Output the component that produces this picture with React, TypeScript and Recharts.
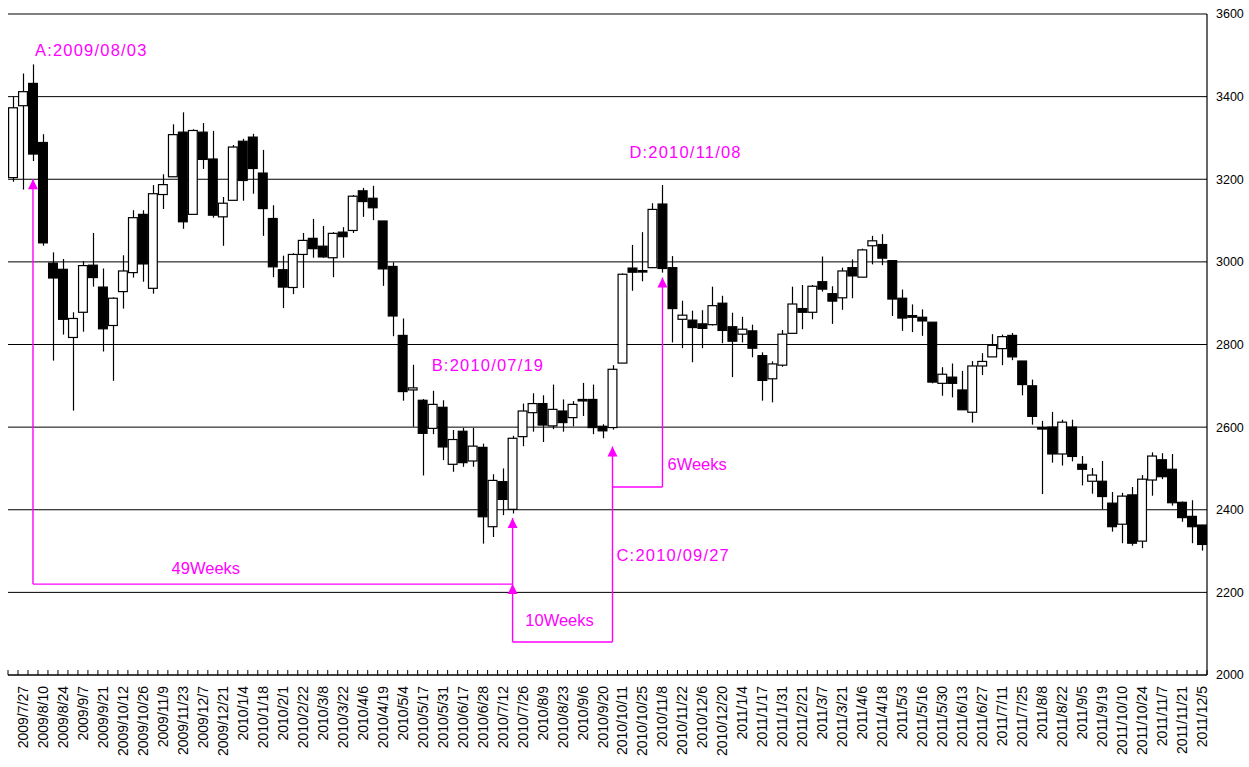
import { ComposedChart, Bar, XAxis, YAxis, CartesianGrid, ReferenceLine, ReferenceDot } from "recharts";

// week labels (every other candle is labelled)
const dateLabels = [
  "2009/7/27", "2009/8/10", "2009/8/24", "2009/9/7", "2009/9/21", "2009/10/12", "2009/10/26", "2009/11/9",
  "2009/11/23", "2009/12/7", "2009/12/21", "2010/1/4", "2010/1/18", "2010/2/1", "2010/2/22", "2010/3/8",
  "2010/3/22", "2010/4/6", "2010/4/19", "2010/5/4", "2010/5/17", "2010/5/31", "2010/6/17", "2010/6/28",
  "2010/7/12", "2010/7/26", "2010/8/9", "2010/8/23", "2010/9/6", "2010/9/20", "2010/10/11", "2010/10/25",
  "2010/11/8", "2010/11/22", "2010/12/6", "2010/12/20", "2011/1/4", "2011/1/17", "2011/1/31", "2011/2/21",
  "2011/3/7", "2011/3/21", "2011/4/6", "2011/4/18", "2011/5/3", "2011/5/16", "2011/5/30", "2011/6/13",
  "2011/6/27", "2011/7/11", "2011/7/25", "2011/8/8", "2011/8/22", "2011/9/5", "2011/9/19", "2011/10/10",
  "2011/10/24", "2011/11/7", "2011/11/21", "2011/12/5",
];

const opens = [
  3204, 3378, 3432, 3289, 2997, 2982, 2817, 2878, 2992, 2939, 2846, 2928, 2974, 3115, 2936, 3163, 3206, 3314, 3115, 3314,
  3249, 3109, 3149, 3292, 3302, 3215, 3105, 2981, 2938, 3018, 3057, 3038, 3010, 3072, 3076, 3172, 3154, 3099, 2989, 2822,
  2690, 2665, 2597, 2648, 2510, 2590, 2518, 2551, 2359, 2468, 2401, 2577, 2635, 2657, 2603, 2639, 2623, 2667, 2667, 2602,
  2599, 2755, 2985, 2979, 2986, 3140, 2986, 2861, 2859, 2850, 2848, 2900, 2843, 2825, 2833, 2773, 2717, 2750, 2827, 2887,
  2878, 2952, 2923, 2913, 2986, 2963, 3039, 3042, 3003, 2912, 2870, 2866, 2854, 2706, 2721, 2690, 2636, 2748, 2770, 2790,
  2822, 2760, 2700, 2599, 2600, 2535, 2600, 2510, 2469, 2469, 2416, 2365, 2436, 2324, 2472, 2521, 2498, 2418, 2384, 2363,
];
const highs = [
  3400, 3456, 3478, 3309, 3023, 3007, 2878, 3002, 3070, 2984, 2914, 3016, 3125, 3125, 3186, 3212, 3333, 3362, 3321, 3336,
  3317, 3157, 3283, 3298, 3310, 3271, 3137, 3015, 3021, 3070, 3104, 3087, 3072, 3084, 3162, 3179, 3184, 3099, 2999, 2863,
  2751, 2668, 2688, 2665, 2593, 2598, 2598, 2560, 2486, 2500, 2579, 2657, 2682, 2677, 2703, 2667, 2663, 2707, 2703, 2607,
  2750, 2972, 3041, 3072, 3142, 3186, 3014, 2906, 2882, 2883, 2940, 2918, 2877, 2867, 2848, 2781, 2759, 2835, 2940, 2944,
  2944, 3013, 2941, 2986, 3006, 3032, 3063, 3067, 3003, 2933, 2897, 2885, 2854, 2745, 2754, 2736, 2760, 2779, 2825, 2824,
  2828, 2760, 2715, 2615, 2637, 2618, 2618, 2530, 2501, 2518, 2443, 2441, 2455, 2484, 2539, 2537, 2535, 2420, 2423, 2363,
];
const lows = [
  3194, 3175, 3244, 3039, 2761, 2824, 2640, 2831, 2940, 2783, 2712, 2887, 2962, 2952, 2923, 3128, 3206, 3080, 3115, 3225,
  3107, 3039, 3149, 3148, 3165, 3063, 2963, 2888, 2922, 2937, 3010, 3010, 2963, 3010, 3070, 3109, 3101, 2942, 2820, 2664,
  2601, 2483, 2583, 2520, 2492, 2504, 2504, 2318, 2334, 2387, 2391, 2554, 2589, 2564, 2595, 2589, 2602, 2627, 2583, 2573,
  2594, 2755, 2930, 2953, 2985, 2974, 2805, 2791, 2757, 2791, 2846, 2803, 2721, 2805, 2769, 2664, 2660, 2746, 2827, 2837,
  2861, 2928, 2850, 2884, 2912, 2963, 2994, 2992, 2869, 2833, 2830, 2821, 2706, 2676, 2672, 2642, 2611, 2726, 2770, 2750,
  2762, 2677, 2606, 2438, 2514, 2507, 2517, 2459, 2439, 2401, 2347, 2319, 2313, 2307, 2434, 2474, 2410, 2371, 2319, 2301,
];
const closes = [
  3373, 3412, 3261, 3046, 2961, 2861, 2863, 2991, 2962, 2838, 2912, 2978, 3107, 2995, 3165, 3187, 3308, 3097, 3318, 3248,
  3113, 3142, 3278, 3197, 3226, 3129, 2988, 2939, 3018, 3052, 3032, 3012, 3069, 3061, 3159, 3146, 3131, 2983, 2869, 2686,
  2695, 2585, 2655, 2552, 2570, 2514, 2554, 2383, 2471, 2425, 2573, 2639, 2657, 2605, 2643, 2611, 2655, 2665, 2599, 2591,
  2740, 2970, 2975, 2977, 3127, 2984, 2887, 2871, 2841, 2839, 2894, 2834, 2808, 2837, 2791, 2713, 2753, 2825, 2898, 2878,
  2941, 2934, 2905, 2978, 2966, 3029, 3051, 3009, 2910, 2864, 2866, 2857, 2709, 2728, 2706, 2642, 2748, 2759, 2798, 2819,
  2770, 2703, 2626, 2596, 2535, 2612, 2529, 2498, 2484, 2432, 2359, 2433, 2319, 2474, 2530, 2480, 2417, 2381, 2359, 2316,
];

const yTicks = [2000, 2200, 2400, 2600, 2800, 3000, 3200, 3400, 3600];

// annotations, in candle index / price terms
const notes = [
  { text: "A:2009/08/03", i: 2, v: 3512, dx: 2, anchor: "start" },
  { text: "B:2010/07/19", i: 42, v: 2750, dx: -1, anchor: "start" },
  { text: "C:2010/09/27", i: 60, v: 2291, dx: 4, anchor: "start" },
  { text: "D:2010/11/08", i: 62, v: 3265, dx: -3, anchor: "start" },
  { text: "49Weeks", i: 19, v: 2260, dx: 3, anchor: "middle" },
  { text: "10Weeks", i: 55, v: 2134, dx: -3, anchor: "middle" },
  { text: "6Weeks", i: 65, v: 2511, dx: 5, anchor: "start" },
];
const arrowTips = [
  { i: 2, v: 3200 },
  { i: 50, v: 2380 },
  { i: 50, v: 2220 },
  { i: 60, v: 2553 },
  { i: 65, v: 2962 },
];
const paths = [
  [[2, 3200], [2, 2220], [50, 2220]],
  [[50, 2380], [50, 2080], [60, 2080], [60, 2553]],
  [[60, 2455], [65, 2455], [65, 2962]],
];

const data = opens.map((o, i) => ({
  i,
  open: o,
  high: highs[i],
  low: lows[i],
  close: closes[i],
  range: [lows[i], highs[i]],
}));

const W = 1249;
const H = 767;
const LEFT = 8;
const YAXIS_W = 42;
const BAND = (W - LEFT - YAXIS_W) / data.length;
const MAGENTA = "#FF00FF";
const FONT = "'Liberation Sans', Arial, sans-serif";

function Candle(props: any) {
  const { x, y, width, height, payload } = props;
  const { open, close, high, low } = payload;
  const top = Math.min(y, y + height);
  const h = Math.abs(height);
  const k = h / (high - low);
  const cx = Math.round(x + width / 2) + 0.5;
  const bodyTop = top + (high - Math.max(open, close)) * k;
  const bodyH = Math.max(Math.abs(close - open) * k, 1.5);
  const up = close >= open;
  return (
    <g>
      <line x1={cx} x2={cx} y1={top} y2={top + h} stroke="#000" strokeWidth={1.2} />
      <rect
        x={x + 0.6}
        y={bodyTop}
        width={width - 1.2}
        height={bodyH}
        fill={up ? "#fff" : "#000"}
        stroke="#000"
        strokeWidth={1.2}
      />
    </g>
  );
}

function DateTick(props: any) {
  const { x, y, payload, index } = props;
  const i = payload.value;
  const text = i % 2 === 1 ? dateLabels[(i - 1) / 2] : "";
  const bx = x - BAND / 2;
  return (
    <g>
      <line x1={bx} x2={bx} y1={y - 5} y2={y} stroke="#000" strokeWidth={1} />
      {index === data.length - 1 && (
        <line x1={x + BAND / 2} x2={x + BAND / 2} y1={y - 5} y2={y} stroke="#000" strokeWidth={1} />
      )}
      {text && (
        <text
          x={x}
          y={y + 11}
          transform={`rotate(-90 ${x} ${y + 11})`}
          textAnchor="end"
          dominantBaseline="central"
          fontSize={14}
          fontFamily={FONT}
          fill="#000"
        >
          {text}
        </text>
      )}
    </g>
  );
}

export default function App() {
  return (
    <div style={{ width: W, height: H, background: "#fff" }}>
      <style>{"body{margin:0}"}</style>
      <ComposedChart
        width={W}
        height={H}
        data={data}
        margin={{ top: 14, right: 0, left: LEFT, bottom: 0 }}
        barCategoryGap={0}
      >
        <CartesianGrid yAxisId="r" vertical={false} stroke="#000" strokeOpacity={1} />
        <XAxis
          dataKey="i"
          type="category"
          interval={0}
          height={92}
          tickSize={0}
          tickMargin={0}
          tickLine={false}
          axisLine={{ stroke: "#000", strokeWidth: 1.2 }}
          tick={<DateTick />}
        />
        <YAxis
          yAxisId="l"
          orientation="left"
          width={0}
          domain={[2000, 3600]}
          ticks={yTicks}
          tick={false}
          tickLine={false}
          axisLine={{ stroke: "#808080", strokeWidth: 1.5 }}
        />
        <YAxis
          yAxisId="r"
          orientation="right"
          width={YAXIS_W}
          domain={[2000, 3600]}
          ticks={yTicks}
          interval={0}
          tickLine={false}
          tickSize={0}
          tickMargin={9}
          axisLine={{ stroke: "#000", strokeWidth: 1.2 }}
          tick={{ fill: "#000", fontSize: 12.5, fontFamily: FONT }}
        />
        <ReferenceLine yAxisId="r" y={3600} stroke="#808080" strokeWidth={1.5} />
        <Bar yAxisId="r" dataKey="range" shape={<Candle />} isAnimationActive={false} />
        {paths.map((pts, p) =>
          pts.slice(1).map((pt, s) => (
            <ReferenceLine
              key={`seg-${p}-${s}`}
              yAxisId="r"
              segment={[
                { x: pts[s][0], y: pts[s][1] },
                { x: pt[0], y: pt[1] },
              ]}
              stroke={MAGENTA}
              strokeWidth={1.4}
            />
          ))
        )}
        {arrowTips.map((a, n) => (
          <ReferenceDot
            key={`arrow-${n}`}
            yAxisId="r"
            x={a.i}
            y={a.v}
            r={0}
            shape={(p: any) => (
              <polygon
                points={`${p.cx},${p.cy} ${p.cx - 5},${p.cy + 10} ${p.cx + 5},${p.cy + 10}`}
                fill={MAGENTA}
              />
            )}
          />
        ))}
        {notes.map((n) => (
          <ReferenceDot
            key={n.text}
            yAxisId="r"
            x={n.i}
            y={n.v}
            r={0}
            shape={(p: any) => (
              <text
                x={p.cx + n.dx}
                y={p.cy}
                textAnchor={n.anchor}
                dominantBaseline="central"
                fontSize={16.5}
                letterSpacing={n.text.includes("/") ? 1.2 : 0}
                fontFamily={FONT}
                fill={MAGENTA}
              >
                {n.text}
              </text>
            )}
          />
        ))}
      </ComposedChart>
    </div>
  );
}
